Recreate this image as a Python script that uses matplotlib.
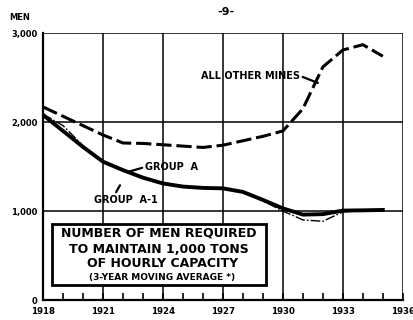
import matplotlib
matplotlib.use("Agg")
import matplotlib.pyplot as plt
from matplotlib.patches import Rectangle

plt.rcParams['font.family'] = ['DejaVu Sans']
plt.rcParams['font.weight'] = 'bold'

# data (3-year moving average)
years = list(range(1918, 1936))
all_other_mines = [2170, 2065, 1960, 1855, 1765, 1760, 1745, 1730, 1715, 1740,
                   1790, 1840, 1900, 2150, 2620, 2810, 2870, 2740]
group_a = [2080, 1900, 1720, 1555, 1460, 1375, 1310, 1275, 1260, 1255,
           1215, 1125, 1030, 960, 965, 1005, 1008, 1012]
group_a1 = [2090, 1960, 1735, 1545, 1450, 1370, 1305, 1270, 1255, 1250,
            1210, 1115, 1000, 900, 885, 990, 1005, 1010]

x_ticks = [1918, 1921, 1924, 1927, 1930, 1933, 1936]
y_ticks = [0, 1000, 2000, 3000]
y_labels = ['0', '1,000', '2,000', '3,000']

fig = plt.figure(figsize=(4.14, 3.2), dpi=100)
ax = fig.add_axes([0.104, 0.0625, 0.869, 0.834])

# grid
for xv in x_ticks[1:]:
    ax.axvline(xv, color='black', lw=1.1, zorder=1)
for yv in [1000, 2000, 3000]:
    ax.axhline(yv, color='black', lw=1.1, zorder=1)

ax.plot(years, all_other_mines, color='black', lw=2.2, ls=(0, (5, 1.6)), zorder=3)
ax.plot(years, group_a1, color='black', lw=1.0, ls=(0, (7, 1.5, 1.2, 1.5)), zorder=3)
ax.plot(years, group_a, color='black', lw=2.8, zorder=4)

ax.set_xlim(1918, 1936)
ax.set_ylim(0, 3000)
ax.set_xticks(x_ticks)
ax.set_xticklabels([str(x) for x in x_ticks], fontsize=6.2, fontweight='bold')
ax.set_xticks(range(1918, 1937), minor=True)
ax.set_yticks(y_ticks)
ax.set_yticklabels(y_labels, fontsize=6, fontweight='bold')
ax.tick_params(axis='x', which='both', direction='in', length=5, width=1.2, pad=5)
ax.tick_params(axis='y', length=0, pad=4)
for s in ['left', 'bottom']:
    ax.spines[s].set_linewidth(1.6)
for s in ['top', 'right']:
    ax.spines[s].set_visible(False)

# labels with leader lines
lead = dict(arrowstyle='-', color='black', lw=1.6, shrinkA=0, shrinkB=0)
ax.annotate('ALL OTHER MINES', xy=(1931.75, 2440), xytext=(1930.85, 2520),
            fontsize=7, fontweight='bold', ha='right', va='center',
            arrowprops=dict(lead, relpos=(1, 0.5)))
ax.annotate('GROUP  A', xy=(1922.25, 1440), xytext=(1923.1, 1495),
            fontsize=7, fontweight='bold', ha='left', va='center',
            arrowprops=dict(lead, relpos=(0, 0.5)))
ax.annotate('GROUP  A-1', xy=(1921.85, 1290), xytext=(1922.15, 1125),
            fontsize=7, fontweight='bold', ha='center', va='center',
            arrowprops=dict(lead, relpos=(0.32, 1.0)))

# caption box
ax.add_patch(Rectangle((0.025, 0.056), 0.594, 0.229, transform=ax.transAxes,
                       facecolor='white', edgecolor='black', lw=2, zorder=5))
cx = 0.322
ax.text(cx, 0.250, 'NUMBER OF MEN REQUIRED', transform=ax.transAxes,
        ha='center', va='center', fontsize=9, fontweight='bold', zorder=6)
ax.text(cx, 0.190, 'TO MAINTAIN 1,000 TONS', transform=ax.transAxes,
        ha='center', va='center', fontsize=9, fontweight='bold', zorder=6)
ax.text(cx + 0.01, 0.138, 'OF HOURLY CAPACITY', transform=ax.transAxes,
        ha='center', va='center', fontsize=9, fontweight='bold', zorder=6)
ax.text(cx + 0.01, 0.086, '(3-YEAR MOVING AVERAGE *)', transform=ax.transAxes,
        ha='center', va='center', fontsize=6.5, fontweight='bold', zorder=6)

fig.text(0.048, 0.945, 'MEN', fontsize=6, fontweight='bold', ha='center', va='center')
fig.text(0.545, 0.962, '-9-', fontsize=8, fontweight='bold', ha='center', va='center')

fig.savefig('out.png', dpi=100, facecolor='white')
